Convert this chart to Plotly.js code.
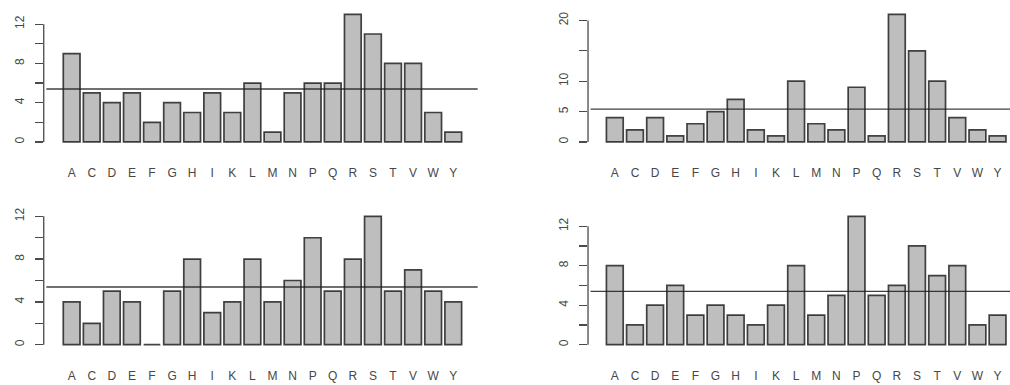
<!DOCTYPE html>
<html>
<head>
<meta charset="utf-8">
<script src="https://cdn.plot.ly/plotly-3.0.1.min.js"></script>
<style>html,body{margin:0;padding:0;background:#fff}#chart{width:1010px;height:385px}</style>
</head>
<body>
<div id="chart"></div>
<script>
const letters = ["A","C","D","E","F","G","H","I","K","L","M","N","P","Q","R","S","T","V","W","Y"];
const panel1 = [9,5,4,5,2,4,3,5,3,6,1,5,6,6,13,11,8,8,3,1];
const panel2 = [4,2,4,1,3,5,7,2,1,10,3,2,9,1,21,15,10,4,2,1];
const panel3 = [4,2,5,4,0,5,8,3,4,8,4,6,10,5,8,12,5,7,5,4];
const panel4 = [8,2,4,6,3,4,3,2,4,8,3,5,13,5,6,10,7,8,2,3];
const refLine = [5.4, 5.4, 5.4, 5.4];
const majorTicks = [[0,4,8,12],[0,5,10,20],[0,4,8,12],[0,4,8,12]];
const minorTicks = [[2,6,10],[15],[2,6,10],[2,6,10]];
const axisTop = [12,20,12,12];

const series = [panel1, panel2, panel3, panel4];
const xDomains = [[0.0433,0.4764],[0.5822,1.0],[0.0433,0.4764],[0.5822,1.0]];
const yDomains = [[0.618,0.976],[0.618,0.976],[0.0914,0.4514],[0.0914,0.4514]];
const xRanges = [[-1.39,20.39],[-1.33,19.617],[-1.39,20.39],[-1.33,19.617]];

const textColor = '#474747';
const lineColor = '#4a4a4a';
const data = [];
const layout = {
  width:1010, height:385,
  margin:{l:0,r:0,t:0,b:0},
  paper_bgcolor:'#ffffff', plot_bgcolor:'rgba(0,0,0,0)',
  showlegend:false, bargap:0.1667,
  font:{family:'Liberation Sans, Arial, sans-serif', size:12, color:textColor},
  shapes:[]
};

series.forEach((vals, i) => {
  const n = i + 1;
  const xa = n === 1 ? 'x' : 'x' + n;
  const ya = n === 1 ? 'y' : 'y' + n;
  data.push({
    type:'bar', x:letters, y:vals, xaxis:xa, yaxis:ya,
    marker:{color:'#bebebe', line:{color:'rgba(35,35,35,0.85)', width:1.7}},
    hoverinfo:'x+y'
  });
  const ymax = Math.max(...vals);
  const pad = ymax * 0.04;
  layout['xaxis' + (n === 1 ? '' : n)] = {
    domain:xDomains[i], anchor:ya, type:'category',
    range:xRanges[i], showgrid:false, zeroline:false, showline:false,
    ticks:'', ticklabelstandoff:17,
    tickfont:{size:12, color:textColor}, fixedrange:true
  };
  layout['yaxis' + (n === 1 ? '' : n)] = {
    domain:yDomains[i], anchor:xa,
    range:[-pad, ymax + pad], showgrid:false, zeroline:false, showline:false,
    tickmode:'array', tickvals:majorTicks[i], ticktext:majorTicks[i].map(String),
    ticks:'outside', ticklen:8, tickwidth:1.3, tickcolor:lineColor,
    minor:{tickmode:'array', tickvals:minorTicks[i], ticks:'outside', ticklen:8, tickwidth:1.3, tickcolor:lineColor},
    tickangle:-90, ticklabelstandoff:6,
    tickfont:{size:12, color:textColor}, fixedrange:true
  };
  const xd = xa + ' domain';
  layout.shapes.push({type:'line', xref:xd, yref:ya, x0:0, x1:0, y0:0, y1:axisTop[i],
    line:{color:lineColor, width:1.3}});
  layout.shapes.push({type:'line', xref:xd, yref:ya, x0:0.006, x1:(n % 2 === 0 ? 1 : 0.992), y0:refLine[i], y1:refLine[i],
    line:{color:'rgba(30,30,30,0.85)', width:1.4}, layer:'above'});
});

Plotly.newPlot('chart', data, layout, {displayModeBar:false, staticPlot:true});
</script>
</body>
</html>
